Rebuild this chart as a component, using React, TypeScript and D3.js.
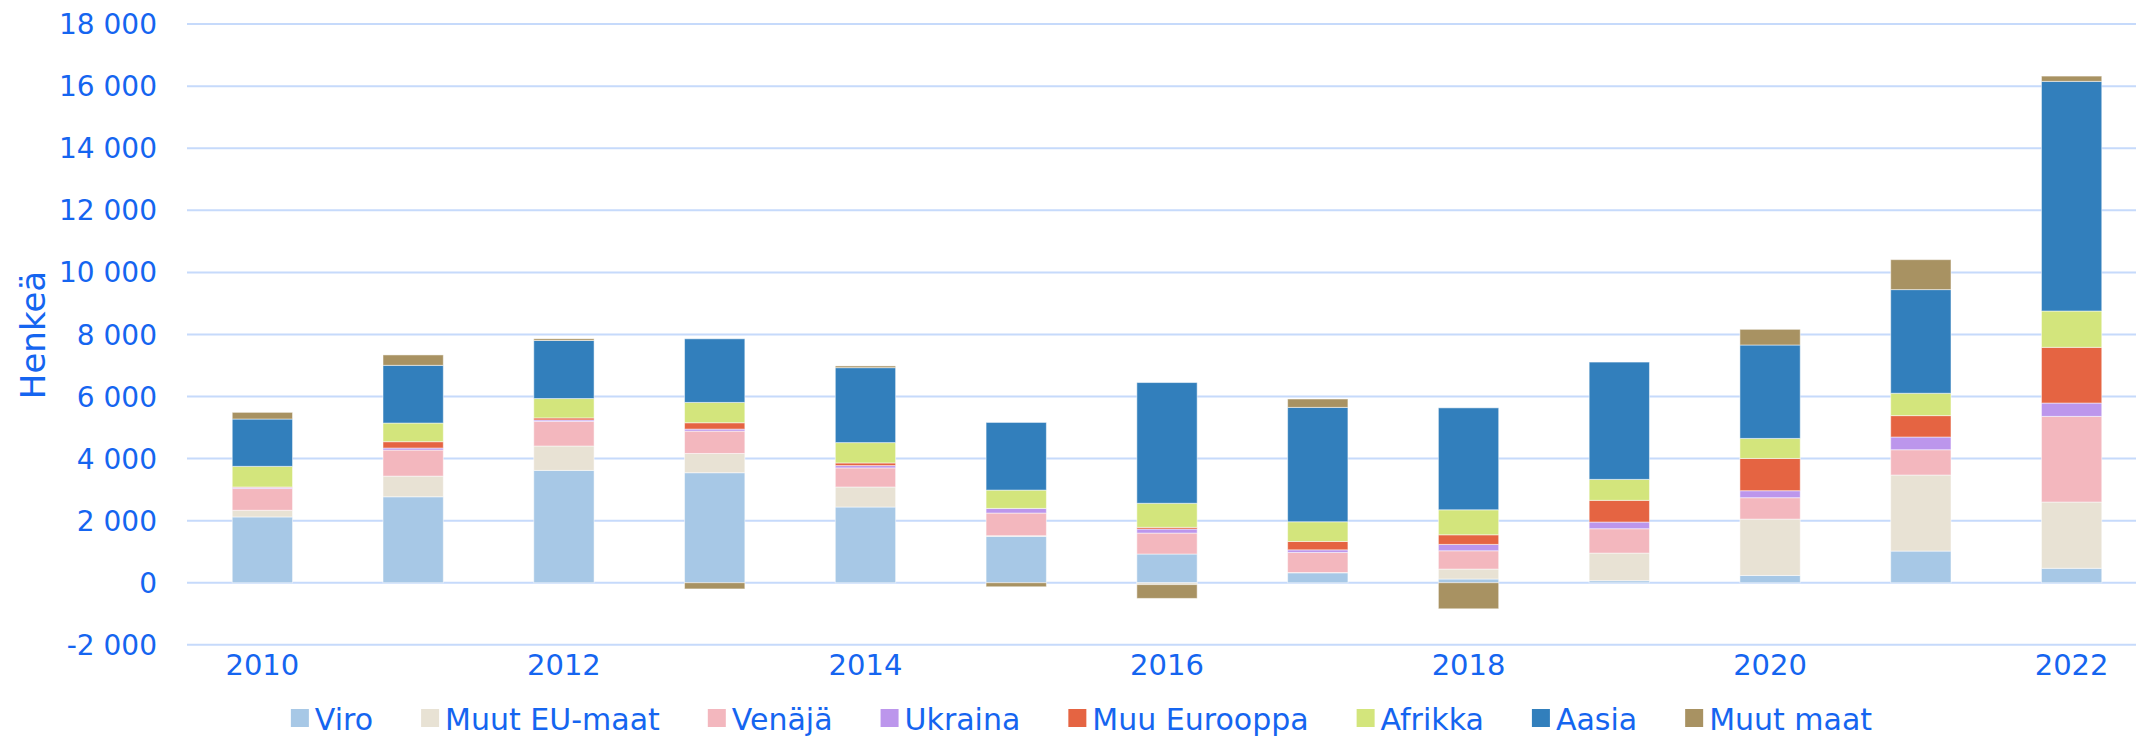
import React from "react";
import * as d3 from "d3";

const years = [2010, 2011, 2012, 2013, 2014, 2015, 2016, 2017, 2018, 2019, 2020, 2021, 2022];
const viro = [2120, 2770, 3620, 3545, 2440, 1495, 925, 320, 120, 65, 235, 1020, 465];
const muutEU = [215, 665, 785, 620, 645, 20, -60, 10, 320, 890, 1815, 2450, 2135];
const venaja = [700, 840, 795, 720, 615, 730, 675, 645, 590, 785, 690, 815, 2760];
const ukraina = [40, 65, 45, 65, 75, 150, 130, 85, 205, 215, 225, 410, 430];
const muuEurooppa = [10, 205, 65, 205, 85, 0, 55, 270, 310, 700, 1040, 690, 1795];
const afrikka = [665, 600, 625, 655, 655, 590, 775, 635, 805, 675, 645, 720, 1170];
const aasia = [1525, 1860, 1870, 2050, 2415, 2180, 3890, 3685, 3285, 3780, 3010, 3340, 7400];
const muutMaat = [215, 335, 55, -200, 55, -130, -445, 270, -840, 0, 505, 965, 170];

const seriesNames = ["Viro", "Muut EU-maat", "Venäjä", "Ukraina", "Muu Eurooppa", "Afrikka", "Aasia", "Muut maat"];
const seriesValues = [viro, muutEU, venaja, ukraina, muuEurooppa, afrikka, aasia, muutMaat];
const seriesColors = ["#a7c8e6", "#e8e2d4", "#f3b7be", "#bc96ec", "#e56442", "#d3e57c", "#327fbc", "#a89262"];

const yTicks = [-2000, 0, 2000, 4000, 6000, 8000, 10000, 12000, 14000, 16000, 18000];
const xTickYears = [2010, 2012, 2014, 2016, 2018, 2020, 2022];
const yTitle = "Henkeä";

const W = 2136;
const H = 738;
const TEXT = "#1565f0";
const FONT = "'DejaVu Sans', sans-serif";

const locale = d3.formatLocale({
  decimal: ",",
  thousands: "\u00a0",
  grouping: [3],
  currency: ["", ""],
  minus: "-",
});
const fmt = locale.format(",d");

function measure(text: string, font: string): number {
  const c = document.createElement("canvas");
  const ctx = c.getContext("2d");
  if (!ctx) return text.length * 16;
  ctx.font = font;
  return ctx.measureText(text).width;
}

export default function App() {
  const x = d3
    .scaleBand<number>()
    .domain(years)
    .range([187, 2147])
    .paddingInner(0.6)
    .paddingOuter(0.3);
  const y = d3.scaleLinear().domain([-2000, 18000]).range([644.8, 24.1]);

  const rows = years.map((yr, i) => {
    const r: any = { year: yr };
    seriesNames.forEach((n, k) => (r[n] = seriesValues[k][i]));
    return r;
  });
  const stack = d3.stack<any>().keys(seriesNames).offset(d3.stackOffsetDiverging);
  const stacked = stack(rows);

  // legend layout
  const legFont = `30px 'DejaVu Sans'`;
  const sq = 18;
  const gapIn = 6;
  const gapOut = 48;
  const widths = seriesNames.map((n) => measure(n, legFont));
  const total = widths.reduce((a, w) => a + sq + gapIn + w, 0) + gapOut * (seriesNames.length - 1);
  let cx = 1081.5 - total / 2;
  const legendItems = seriesNames.map((n, i) => {
    const item = { name: n, color: seriesColors[i], x: cx };
    cx += sq + gapIn + widths[i] + gapOut;
    return item;
  });

  return (
    <svg
      width={W}
      height={H}
      style={{ position: "absolute", left: 0, top: 0, display: "block", overflow: "hidden", background: "#fff" }}
      fontFamily={FONT}
    >
      <rect x={0} y={0} width={W} height={H} fill="#ffffff" />
      {yTicks.map((t) => (
        <g key={t}>
          <line x1={187} x2={2147} y1={y(t)} y2={y(t)} stroke="#c6dafb" strokeWidth={2} />
          <text x={157} y={y(t)} dy="0.36em" textAnchor="end" fontSize={28} fill={TEXT}>
            {fmt(t)}
          </text>
        </g>
      ))}
      {stacked.map((s, k) => (
        <g key={s.key} fill={seriesColors[k]}>
          {s.map((d, i) => {
            const y0 = y(d[0]);
            const y1 = y(d[1]);
            const h = Math.abs(y0 - y1);
            if (h < 0.01) return null;
            return (
              <rect
                key={i}
                x={x(years[i])}
                width={x.bandwidth()}
                y={Math.min(y0, y1)}
                height={h}
                stroke="#ffffff"
                strokeOpacity={0.5}
                strokeWidth={1}
              />
            );
          })}
        </g>
      ))}
      {xTickYears.map((yr) => (
        <text
          key={yr}
          x={(x(yr) as number) + x.bandwidth() / 2}
          y={675}
          textAnchor="middle"
          fontSize={29}
          fill={TEXT}
        >
          {yr}
        </text>
      ))}
      <text
        transform={`translate(45,335) rotate(-90)`}
        textAnchor="middle"
        fontSize={34}
        fill={TEXT}
      >
        {yTitle}
      </text>
      {legendItems.map((it) => (
        <g key={it.name}>
          <rect x={it.x} y={709} width={sq} height={sq} fill={it.color} />
          <text x={it.x + sq + gapIn} y={730} fontSize={30} fill={TEXT}>
            {it.name}
          </text>
        </g>
      ))}
    </svg>
  );
}
